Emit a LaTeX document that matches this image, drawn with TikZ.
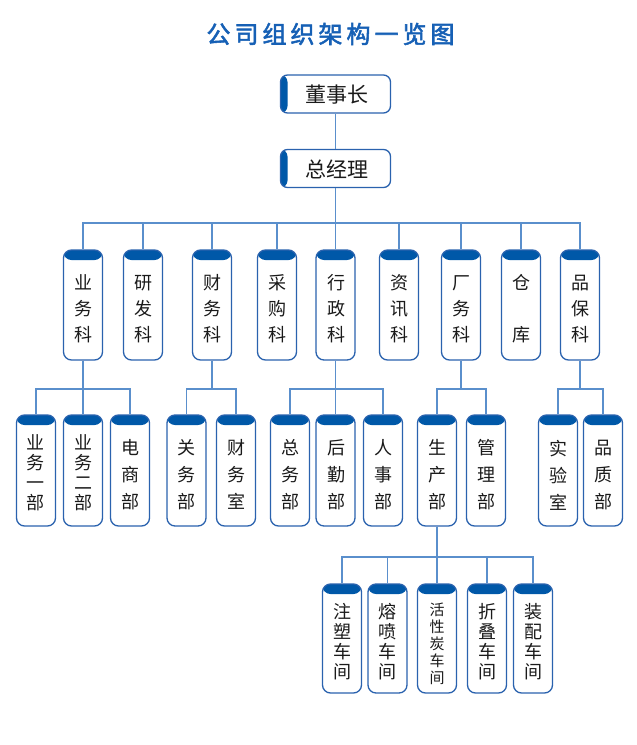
\documentclass[tikz,border=0pt]{standalone}
\usepackage{fontspec}
\setmainfont{Noto Sans CJK SC}
\newfontfamily\titlefont[FakeBold=2.2]{Noto Sans CJK SC}
\definecolor{capblue}{HTML}{0058A8}
\definecolor{boxblue}{HTML}{2A62AE}
\definecolor{linkblue}{HTML}{5A8FCC}
\definecolor{titleblue}{HTML}{1660B5}
\definecolor{txt}{HTML}{1A1A1A}
\tikzset{
  capbox/.style={draw=boxblue, line width=1.3pt, rounded corners=8pt, fill=white,
    minimum width=39pt, inner sep=0pt,
    path picture={\fill[capblue] ([yshift=2pt]path picture bounding box.north west) rectangle ([yshift=-10pt]path picture bounding box.north east);}},
  lvtwo/.style={capbox, minimum height=110pt},
  lvthree/.style={capbox, minimum height=111pt},
  lvfour/.style={capbox, minimum height=109pt},
  topbox/.style={draw=boxblue, line width=1.3pt, rounded corners=7pt, fill=white,
    minimum width=110pt, minimum height=38pt, inner sep=0pt,
    path picture={\fill[capblue] ([xshift=-2pt]path picture bounding box.south west) rectangle ([xshift=7pt]path picture bounding box.north west);}},
  toptext/.style={inner sep=0pt, text=txt, font=\fontsize{21}{24}\selectfont},
  vtwide/.style={inner sep=0pt, align=center, text=txt, font=\fontsize{18}{26}\selectfont},
  vtwidethree/.style={inner sep=0pt, align=center, text=txt, font=\fontsize{18}{27}\selectfont},
  vtnarrow/.style={inner sep=0pt, align=center, text=txt, font=\fontsize{18}{20}\selectfont},
  vtsmall/.style={inner sep=0pt, align=center, text=txt, font=\fontsize{15}{17}\selectfont},
  conn/.style={draw=linkblue, line width=1.2pt},
  titletext/.style={inner sep=0pt, text=titleblue, font=\titlefont\fontsize{24}{28}\selectfont}
}
\newcommand{\tsp}{\hspace{4pt}}
\begin{document}
\begin{tikzpicture}[x=1pt,y=-1pt]
\useasboundingbox (0,0) rectangle (637,745);

% title
\node[titletext] (title) at (330.5,34) {公\tsp 司\tsp 组\tsp 织\tsp 架\tsp 构\tsp 一\tsp 览\tsp 图};

% top
\node[topbox] (dsz) at (335.5,94) {};
\node[toptext] (dszt) at (337,95) {董事长};
\node[topbox] (zjl) at (335.5,168.5) {};
\node[toptext] (zjlt) at (337,169) {总经理};

% level 2
\node[lvtwo] (yw) at (83,305) {};
\node[lvtwo] (yf) at (143,305) {};
\node[lvtwo] (cw) at (212,305) {};
\node[lvtwo] (cg) at (277,305) {};
\node[lvtwo] (xz) at (335.5,305) {};
\node[lvtwo] (zx) at (399,305) {};
\node[lvtwo] (cwk) at (461,305) {};
\node[lvtwo] (ck) at (521,305) {};
\node[lvtwo] (pb) at (580,305) {};
\node[vtwide] (ywt) at (83,309) {业\\务\\科};
\node[vtwide] (yft) at (143,309) {研\\发\\科};
\node[vtwide] (cwt) at (212,309) {财\\务\\科};
\node[vtwide] (cgt) at (277,309) {采\\购\\科};
\node[vtwide] (xzt) at (336,309) {行\\政\\科};
\node[vtwide] (zxt) at (399,309) {资\\讯\\科};
\node[vtwide] (cwkt) at (461,309) {厂\\务\\科};
\node[vtwide] (ckt) at (521,309) {仓\\[26pt]库};
\node[vtwide] (pbt) at (580,309) {品\\保\\科};

% level 3
\node[lvthree] (yw1) at (36,470.5) {};
\node[lvthree] (yw2) at (83,470.5) {};
\node[lvthree] (ds) at (130,470.5) {};
\node[lvthree] (gw) at (186.5,470.5) {};
\node[lvthree] (cws) at (236,470.5) {};
\node[lvthree] (zw) at (290,470.5) {};
\node[lvthree] (hq) at (335.5,470.5) {};
\node[lvthree] (rs) at (383,470.5) {};
\node[lvthree] (sc) at (437,470.5) {};
\node[lvthree] (gl) at (486,470.5) {};
\node[lvthree] (sy) at (558,470.5) {};
\node[lvthree] (pz) at (603,470.5) {};
\node[vtnarrow] (yw1t) at (36,473) {业\\务\\一\\部};
\node[vtnarrow] (yw2t) at (83,473) {业\\务\\二\\部};
\node[vtwidethree] (dst) at (130,474.5) {电\\商\\部};
\node[vtwidethree] (gwt) at (186.5,474.5) {关\\务\\部};
\node[vtwidethree] (cwst) at (236,474.5) {财\\务\\室};
\node[vtwidethree] (zwt) at (290,474.5) {总\\务\\部};
\node[vtwidethree] (hqt) at (336,474.5) {后\\勤\\部};
\node[vtwidethree] (rst) at (383,474.5) {人\\事\\部};
\node[vtwidethree] (sct) at (437,474.5) {生\\产\\部};
\node[vtwidethree] (glt) at (486,474.5) {管\\理\\部};
\node[vtwidethree] (syt) at (558,475) {实\\验\\室};
\node[vtwidethree] (pzt) at (603,475) {品\\质\\部};

% level 4
\node[lvfour] (zs) at (342,638.5) {};
\node[lvfour] (rp) at (387.5,638.5) {};
\node[lvfour] (hx) at (437,638.5) {};
\node[lvfour] (zd) at (487,638.5) {};
\node[lvfour] (zp) at (533,638.5) {};
\node[vtnarrow] (zst) at (342,642) {注\\塑\\车\\间};
\node[vtnarrow] (rpt) at (387.5,642) {熔\\喷\\车\\间};
\node[vtsmall] (hxt) at (437,644) {活\\性\\炭\\车\\间};
\node[vtnarrow] (zdt) at (487,642) {折\\叠\\车\\间};
\node[vtnarrow] (zpt) at (533,642) {装\\配\\车\\间};

% connectors
\coordinate (busa) at (0,223);
\coordinate (busb) at (0,389);
\coordinate (busc) at (0,557);
\draw[conn] (dsz.south) -- (zjl.north);
\foreach \n in {yw,yf,cw,cg,xz,zx,cwk,ck,pb}
  \draw[conn] (zjl.south) -- (zjl.south |- busa) -| (\n.north);
\foreach \n in {yw1,yw2,ds}
  \draw[conn] (yw.south) -- (yw.south |- busb) -| (\n.north);
\foreach \n in {gw,cws}
  \draw[conn] (cw.south) -- (cw.south |- busb) -| (\n.north);
\foreach \n in {zw,hq,rs}
  \draw[conn] (xz.south) -- (xz.south |- busb) -| (\n.north);
\foreach \n in {sc,gl}
  \draw[conn] (cwk.south) -- (cwk.south |- busb) -| (\n.north);
\foreach \n in {sy,pz}
  \draw[conn] (pb.south) -- (pb.south |- busb) -| (\n.north);
\foreach \n in {zs,rp,hx,zd,zp}
  \draw[conn] (sc.south) -- (sc.south |- busc) -| (\n.north);
\end{tikzpicture}
\end{document}
